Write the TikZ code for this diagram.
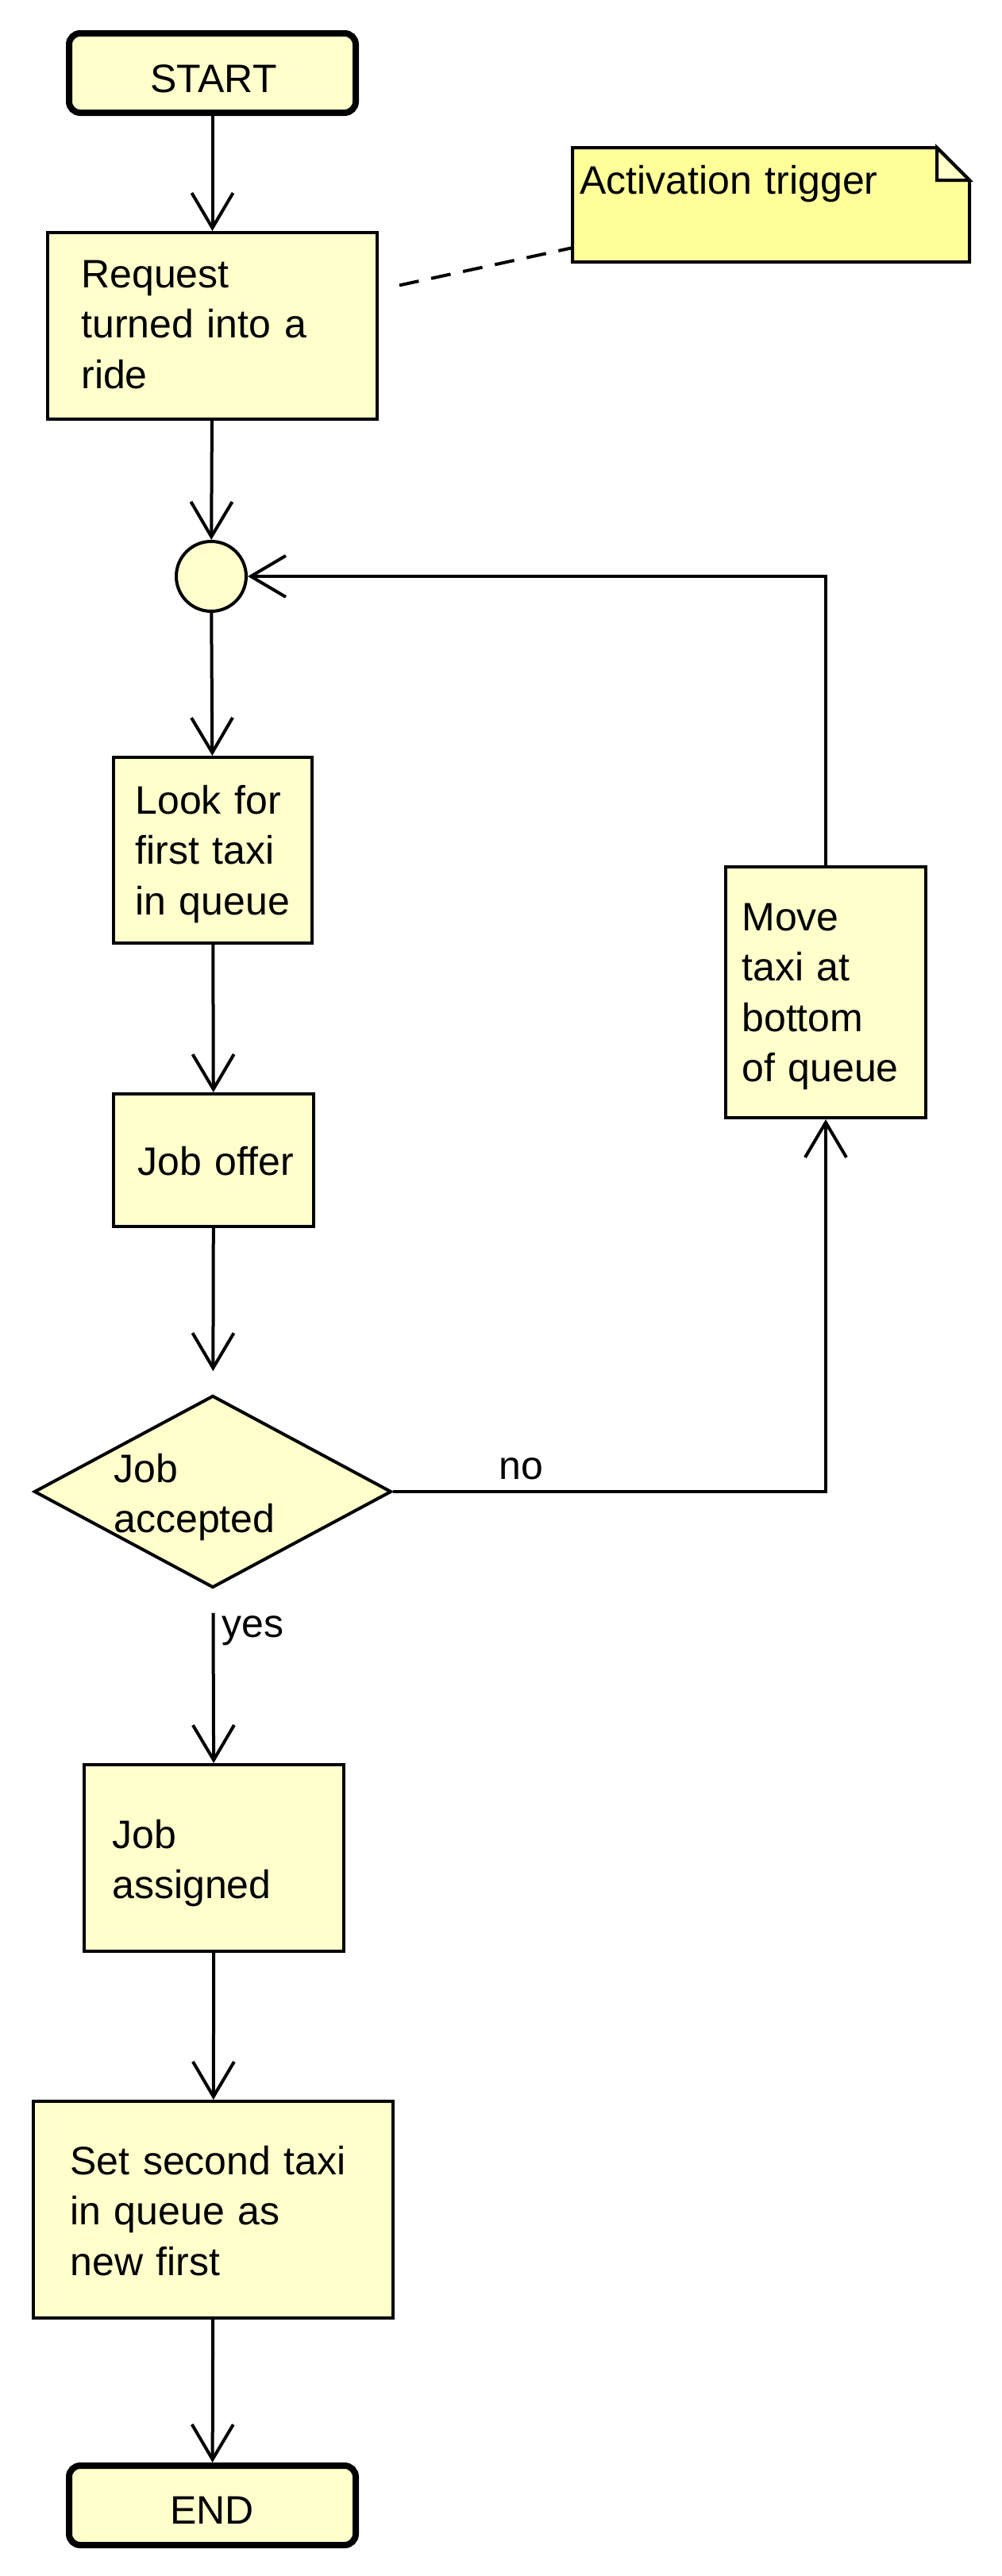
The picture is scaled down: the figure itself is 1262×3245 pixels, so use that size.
\documentclass[tikz,border=0pt]{standalone}
\usepackage{fontspec}
\setmainfont{Liberation Sans}
\usetikzlibrary{arrows.meta,shapes.geometric,calc}
\definecolor{boxfill}{RGB}{255,255,204}
\definecolor{notefill}{RGB}{255,255,153}
\begin{document}
\begin{tikzpicture}[x=0.5pt,y=-0.5pt,
  box/.style={draw, line width=2pt, fill=boxfill, inner sep=0pt, rectangle},
  term/.style={draw, line width=4pt, fill=boxfill, rounded corners=7pt, inner sep=0pt, minimum width=180.5pt, minimum height=50pt},
  txt/.style={anchor=base west, align=left, inner sep=0pt, text width=220pt, font=\fontsize{25}{31.75}\selectfont},
  ctxt/.style={anchor=base, inner sep=0pt, font=\fontsize{25}{31.75}\selectfont},
  flow/.style={line width=2pt, -{Straight Barb[length=22pt,width=26pt]}},
  notelink/.style={line width=2pt, dash pattern=on 12.5pt off 8pt},
]
\useasboundingbox (0,0) rectangle (1262,3245);

% shapes
\node[term] (start) at (267.5,92) {};
\node[box, minimum width=207.5pt, minimum height=117.5pt] (req) at (267.5,410.5) {};
\node[rectangle, inner sep=0pt, outer sep=0pt, minimum width=250pt, minimum height=72pt] (note) at (971,258) {};
\node[circle, draw, line width=2pt, fill=boxfill, inner sep=0pt, minimum size=44pt] (merge) at (266,726) {};
\node[box, minimum width=125pt, minimum height=117pt] (look) at (268,1071) {};
\node[box, minimum width=126pt, minimum height=83.5pt] (offer) at (269,1461.5) {};
\node[diamond, draw, line width=2pt, fill=boxfill, inner sep=0pt, minimum width=225pt, minimum height=121pt] (dec) at (268,1879) {};
\node[box, minimum width=126pt, minimum height=158pt] (move) at (1040,1250) {};
\node[box, minimum width=163.5pt, minimum height=117.5pt] (assigned) at (269.5,2340.5) {};
\node[box, minimum width=226.5pt, minimum height=136.5pt] (setn) at (268.5,2783.5) {};
\node[term] (end) at (267.5,3156) {};

% note outline
\draw[line width=2pt, fill=notefill] (note.north west) -- ($(note.north east)+(-41,0)$) -- ($(note.north east)+(0,41)$) -- (note.south east) -- (note.south west) -- cycle;
\draw[line width=2pt, fill=boxfill, line join=miter] ($(note.north east)+(-41,0)$) -- ($(note.north east)+(-41,41)$) -- ($(note.north east)+(0,41)$) -- cycle;

% texts
\node[ctxt] (tstart) at (269,116) {START};
\node[txt] (treq) at (102,362) {Request\\turned into a\\ride};
\node[txt] (tnote) at (730,244) {Activation trigger};
\node[txt] (tlook) at (170,1025) {Look for\\first taxi\\in queue};
\node[txt] (toffer) at (173,1480) {Job offer};
\node[txt] (tdec) at (143,1867) {Job\\accepted};
\node[txt] (tmove) at (934,1172) {Move\\taxi at\\bottom\\of queue};
\node[txt] (tassigned) at (141,2328) {Job\\assigned};
\node[txt] (tset) at (88,2739) {Set second taxi\\in queue as\\new first};
\node[ctxt] (tend) at (267,3179) {END};
\node[txt] (lno) at (628,1863) {no};
\node[txt] (lyes) at (279,2062) {yes};

% connectors
\draw[flow] (start) -- (req);
\draw[notelink, shorten <=13.3pt] (req) -- (note);
\draw[flow] (req) -- (merge);
\draw[flow] (merge) -- (look);
\draw[flow] (look) -- (offer);
\draw[flow, shorten >=14.5pt] (offer) -- (dec);
\draw[flow] (dec) -| (move);
\draw[flow] (move) |- (merge);
\draw[flow, shorten <=15pt] (dec) -- (assigned);
\draw[flow] (assigned) -- (setn);
\draw[flow] (setn) -- (end);
\end{tikzpicture}
\end{document}
